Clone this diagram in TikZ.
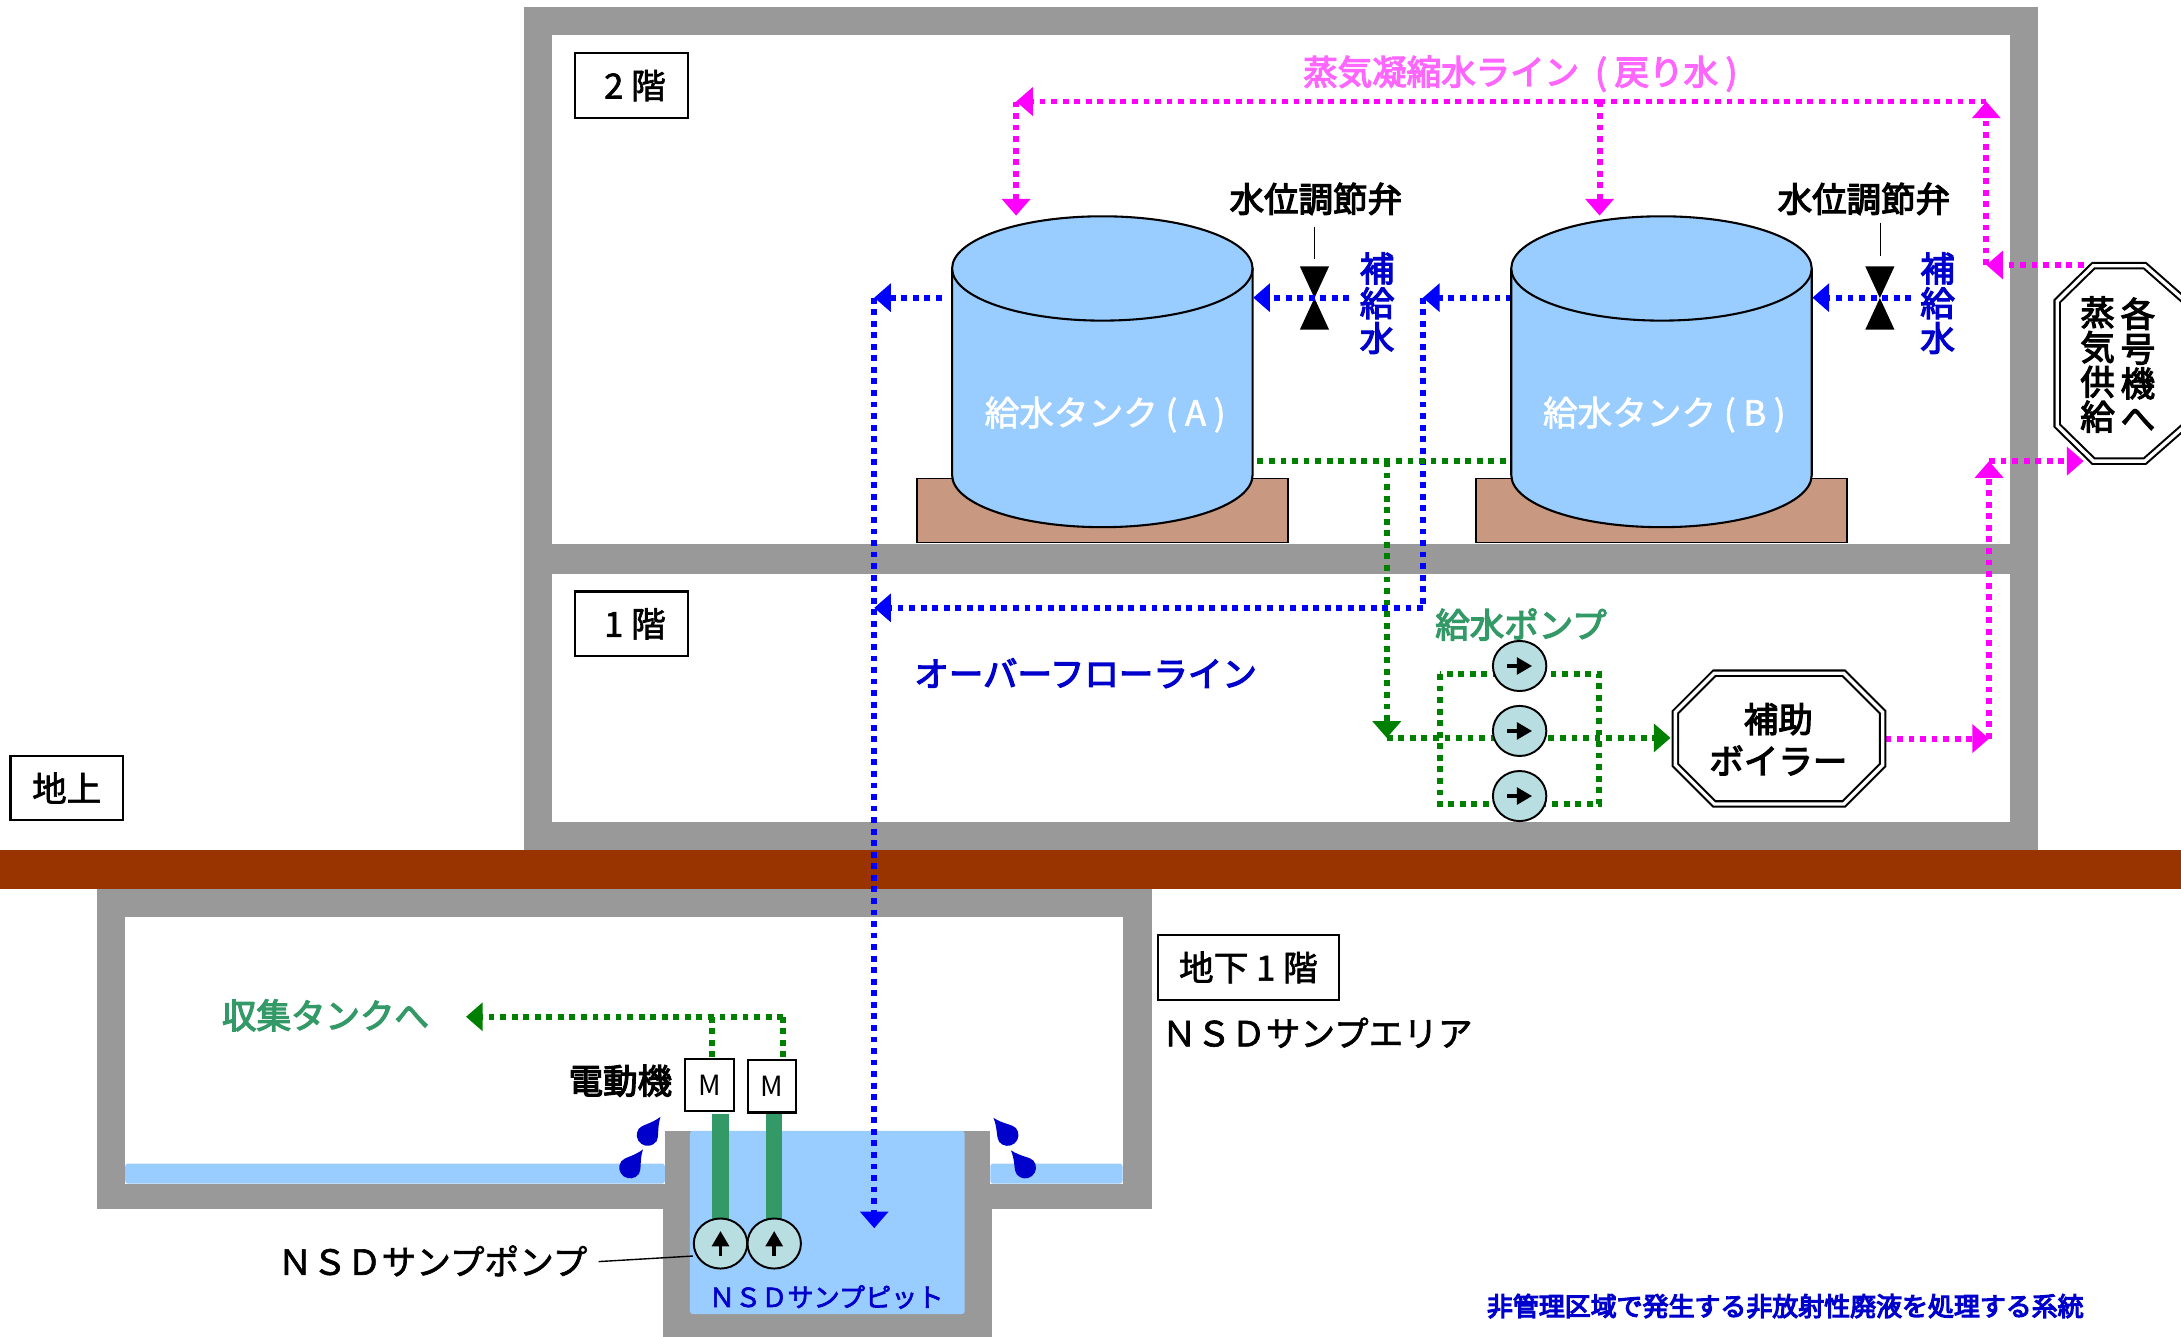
\documentclass[tikz,border=0pt]{standalone}
\usepackage{fontspec}
\usetikzlibrary{arrows.meta,shapes.geometric}
\newfontfamily\jp{Noto Sans CJK JP}
\newcommand{\tmid}[1]{\special{pdf:code q 2 Tr 0.45 w}#1\special{pdf:code Q}}
\newcommand{\theavy}[1]{\special{pdf:code q 2 Tr 0.85 w}#1\special{pdf:code Q}}
\definecolor{wallgray}{HTML}{999999}
\definecolor{groundbrown}{HTML}{993300}
\definecolor{waterblue}{HTML}{99CCFF}
\definecolor{basebrown}{HTML}{C99880}
\definecolor{pumpfill}{HTML}{B8DEE1}
\definecolor{labelblue}{HTML}{0000CC}
\definecolor{labelgreen}{HTML}{339966}
\definecolor{labelpink}{HTML}{FF66FF}
\definecolor{pipegreen}{HTML}{008000}
\definecolor{pipeblue}{HTML}{0000FF}
\definecolor{pipepink}{HTML}{FF00FF}
\pgfdeclarelayer{walls}
\pgfdeclarelayer{pipes}
\pgfsetlayers{walls,pipes,main}
\tikzset{
  x=1pt,y=-1pt,
  lbl/.style={inner sep=0pt,outer sep=0pt,font=\jp\fontsize{24.9pt}{25pt}\selectfont,align=center},
  lblb/.style={lbl,font=\jp\fontsize{24.8pt}{25pt}\selectfont},
  small/.style={lbl,font=\jp\fontsize{18.65pt}{20pt}\selectfont},
  floorbox/.style={draw=black,line width=1.6pt,fill=white,minimum width=81pt,minimum height=46.5pt,inner sep=0pt,font=\jp\fontsize{24.9pt}{25pt}\selectfont},
  motor/.style={draw=black,line width=1.6pt,fill=white,minimum width=35pt,minimum height=37.5pt,inner sep=0pt,font=\jp\fontsize{20pt}{20pt}\selectfont},
  pump/.style={ellipse,draw=black,line width=1.4pt,fill=pumpfill,minimum width=38.4pt,minimum height=36pt,inner sep=0pt},
  pumparrow/.style={line width=2.6pt,-{Triangle[length=11pt,width=12pt]}},
  pipe/.style={line width=4.2pt,dash pattern=on 4.2pt off 4.1pt},
  gpipe/.style={pipe,draw=pipegreen},
  bpipe/.style={pipe,draw=pipeblue},
  mpipe/.style={pipe,draw=pipepink},
  tipg/.style={-{Triangle[length=12pt,width=20pt]}},
  oct/.style={draw=black,line width=1.5pt,double=white,double distance=2.4pt,miter limit=10,line join=miter},
  tankbody/.style={fill=waterblue,draw=black,line width=1.5pt},
  basebox/.style={fill=basebrown,draw=black,line width=1.3pt},
  valve/.style={fill=black},
  leader/.style={draw=black,line width=1pt},
  dropf/.style={fill=labelblue}
}
\newcommand{\waterdrop}[3]{\begin{scope}[shift={(#1,#2)},rotate=#3]
 \fill[dropf] (16,0) .. controls (8,2.5) and (3.5,7.8) .. (0,7.8) arc (90:270:7.8) .. controls (3.5,-7.8) and (8,-2.5) .. (16,0) -- cycle;
\end{scope}}
\newcommand{\watertank}[1]{\begin{scope}[shift={(#1,0)}]
 \draw[basebox] (-133.5,344) rectangle (133.5,390);
 \draw[tankbody] (-108,192.5) -- (-108,341.5) .. controls (-108,362.5) and (-59.6,379) .. (0,379) .. controls (59.6,379) and (108,362.5) .. (108,341.5) -- (108,192.5);
 \draw[tankbody] (0,193) ellipse [x radius=108,y radius=37.5];
\end{scope}}
\begin{document}
\begin{tikzpicture}
\useasboundingbox (0,0) rectangle (1568,961);
\clip (0,0) rectangle (1568,961);
\begin{pgfonlayer}{walls}
 \fill[white] (0,0) rectangle (1568,961);
 % building
 \fill[wallgray] (377,5) rectangle (1465,611);
 \fill[white] (397,25) rectangle (1445,391);
 \fill[white] (397,413) rectangle (1445,591);
 % basement
 \fill[wallgray] (70,639) rectangle (828,869.5);
 \fill[white] (90,659) rectangle (807,851);
 \fill[waterblue,rounded corners=2pt] (90,836.5) rectangle (478,851);
 \fill[waterblue,rounded corners=2pt] (712,836.5) rectangle (807,851);
 \fill[wallgray] (476.5,851) rectangle (713,961);
 \fill[wallgray] (478,813) rectangle (712,851);
 \fill[waterblue,rounded corners=2pt] (496,813) rectangle (693.5,944.7);
 \fill[groundbrown] (0,611) rectangle (1568,639);
 % shafts
 \fill[labelgreen] (512,801) rectangle (524,877);
 \fill[labelgreen] (550.7,801) rectangle (562,877);
\end{pgfonlayer}

% tanks
\watertank{792.5}
\watertank{1194.5}
\node[lbl,text=white] (tankA) at (794.5,298) {\tmid{給水タンク ( A )}};
\node[lbl,text=white] (tankB) at (1196.5,298) {\tmid{給水タンク ( B )}};

% floor labels
\node[floorbox] (f2) at (454,61.5) {\hspace{5pt}\tmid{2 階}};
\node[floorbox] (f1) at (454,448.5) {\hspace{5pt}\tmid{1 階}};
\node[floorbox] (fg) at (48,566.5) {\tmid{地上}};
\node[floorbox,minimum width=130.5pt] (fb) at (897.5,695.5) {\tmid{地下 1 階}};

% labels
\node[lbl] (area) at (947,742.5) {\tmid{ＮＳＤサンプエリア}};
\node[lbl] (sump) at (311,906.5) {\tmid{ＮＳＤサンプポンプ}};
\node[lbl,text=labelblue,font=\jp\fontsize{18.8pt}{20pt}\selectfont] (pit) at (594,932.5) {\tmid{ＮＳＤサンプピット}};
\node[small,text=labelblue] (note) at (1283.5,939) {\theavy{非管理区域で発生する非放射性廃液を処理する系統}};
\node[lblb,text=labelpink] (cond) at (1094.5,53) {\theavy{蒸気凝縮水ライン\hspace{6pt} ( 戻り水 )\hspace{3pt}}};
\node[lblb] (vA) at (946,143) {\theavy{水位調節弁}};
\node[lblb] (vB) at (1340,143) {\theavy{水位調節弁}};
\node[lblb,text=labelblue] (makeA) at (990,218) {\theavy{補}\\\theavy{給}\\\theavy{水}};
\node[lblb,text=labelblue] (makeB) at (1393,218) {\theavy{補}\\\theavy{給}\\\theavy{水}};
\node[lblb,text=labelblue] (over) at (780.5,484) {\theavy{オーバーフローライン}};
\node[lblb,text=labelgreen] (fwp) at (1093.5,449) {\theavy{給水ポンプ}};
\node[lblb,text=labelgreen] (coll) at (234,730) {\theavy{収集タンクへ}};
\node[lblb] (mot) at (446,777) {\theavy{電動機}};

% boiler
\draw[oct,fill=white] (1232.5,484) -- (1325.5,484) -- (1353.5,512) -- (1353.5,550) -- (1325.5,578) -- (1232.5,578) -- (1204.5,550) -- (1204.5,512) -- cycle;
\node[lblb] (boiler) at (1278.5,531.5) {\theavy{補助}\\[5pt]\theavy{ボイラー}};
% steam octagon
\draw[oct,fill=white] (1479,216.5) -- (1505,191) -- (1542,191) -- (1571,216.5) -- (1571,306) -- (1542,331.5) -- (1505,331.5) -- (1479,306) -- cycle;
\node[lblb] (st1) at (1537,262) {\theavy{各}\\\theavy{号}\\\theavy{機}\\\theavy{へ}};
\node[lblb] (st2) at (1508,262) {\theavy{蒸}\\\theavy{気}\\\theavy{供}\\\theavy{給}};

% pumps
\node[pump] (p1) at (1092.5,478.8) {};
\node[pump] (p2) at (1092.5,525.5) {};
\node[pump] (p3) at (1092.5,572.3) {};
\node[pump] (s1) at (518,894) {};
\node[pump] (s2) at (556.6,894) {};
\foreach \n in {p1,p2,p3}{\draw[pumparrow] ([xshift=-9pt]\n.center) -- ([xshift=9pt]\n.center);}
\foreach \n in {s1,s2}{\draw[pumparrow] ([yshift=-9pt]\n.center) -- ([yshift=9pt]\n.center);}

% motors
\node[motor] (m1) at (510,780.2) {M};
\node[motor] (m2) at (555,781) {M};

% drops
\waterdrop{465.6}{816}{54.7}
\waterdrop{453}{839.4}{54.7}
\waterdrop{724.4}{816}{129.4}
\waterdrop{737}{839.4}{129.4}

% coordinates of the pipe runs
\coordinate (mTL) at (730.5,73);
\coordinate (mTR) at (1428,73);
\coordinate (mA) at (730.5,155);
\coordinate (mM) at (1150,73);
\coordinate (mB) at (1150,155);
\coordinate (mJ) at (1428,190.5);
\coordinate (mS) at (1498,190.5);
\coordinate (mOutB) at (1355.5,531);
\coordinate (mC) at (1430,531);
\coordinate (mD) at (1430,331.5);
\coordinate (mIn) at (1498,331.5);
\coordinate (bA) at (677,214);
\coordinate (bOv) at (628.5,214);
\coordinate (bPit) at (628.5,883);
\coordinate (bM1) at (970,214);
\coordinate (bT1) at (901,214);
\coordinate (bB) at (1087,214);
\coordinate (bJ) at (1023,214);
\coordinate (bL) at (1023,437);
\coordinate (bE) at (628.5,437);
\coordinate (bM2) at (1374,214);
\coordinate (bT2) at (1303,214);
\coordinate (gA) at (904,331.5);
\coordinate (gB) at (1083,331.5);
\coordinate (gJ) at (997,331.5);
\coordinate (gK) at (997,530.5);
\coordinate (gBo) at (1201,530.5);
\coordinate (gC1) at (1035,484.6);
\coordinate (gC2) at (1149.6,578);
\coordinate (gT) at (563,731);
\coordinate (gU) at (512,731);
\coordinate (gEnd) at (335,731);

\begin{pgfonlayer}{pipes}
 % valves
 \fill[valve] (934.5,191.5) -- (955.5,191.5) -- (934.5,237) -- (955.5,237) -- cycle;
 \fill[valve] (1341,191.5) -- (1362,191.5) -- (1341,237) -- (1362,237) -- cycle;
 \draw[leader] (945,163) -- (945,186);
 \draw[leader] (1352,160) -- (1352,184);
 % blue
 \draw[bpipe,tipg] (bA) -- (bOv);
 \draw[bpipe,tipg] (bOv) -- (bPit);
 \draw[bpipe,tipg] (bM1) -- (bT1);
 \draw[bpipe,tipg] (bB) -- (bJ);
 \draw[bpipe] (bJ) -- (bL);
 \draw[bpipe,tipg] (bL) -- (bE);
 \draw[bpipe,tipg] (bM2) -- (bT2);
 % green
 \draw[gpipe] (gA) -- (gB);
 \draw[gpipe,tipg] (gJ) -- (gK);
 \draw[gpipe,tipg] (gK) -- (gBo);
 \draw[gpipe] (gC1) rectangle (gC2);
 % magenta
 \draw[mpipe,tipg] (mM) -- (mTL);
 \draw[mpipe,tipg] (mTL) -- (mA);
 \draw[mpipe,tipg] (mM) -- (mB);
 \draw[mpipe] (mM) -- (mTR);
 \draw[mpipe,tipg] (mJ) -- (mTR);
 \draw[mpipe,tipg] (mS) -- (mJ);
 \draw[mpipe,tipg] (mOutB) -- (mC);
 \draw[mpipe,tipg] (mC) -- (mD);
 \draw[mpipe,tipg] (mD) -- (mIn);
\end{pgfonlayer}

% green lines into the motors
\draw[gpipe,tipg] (gT) -- (gEnd);
\draw[gpipe] (gT) -- (gT |- m2.north);
\draw[gpipe] (gU) -- (gU |- m1.north);
% leader
\draw[leader] (sump.east) ++(8,0.5) -- (s1.west |- 0,903);
\end{tikzpicture}
\end{document}
